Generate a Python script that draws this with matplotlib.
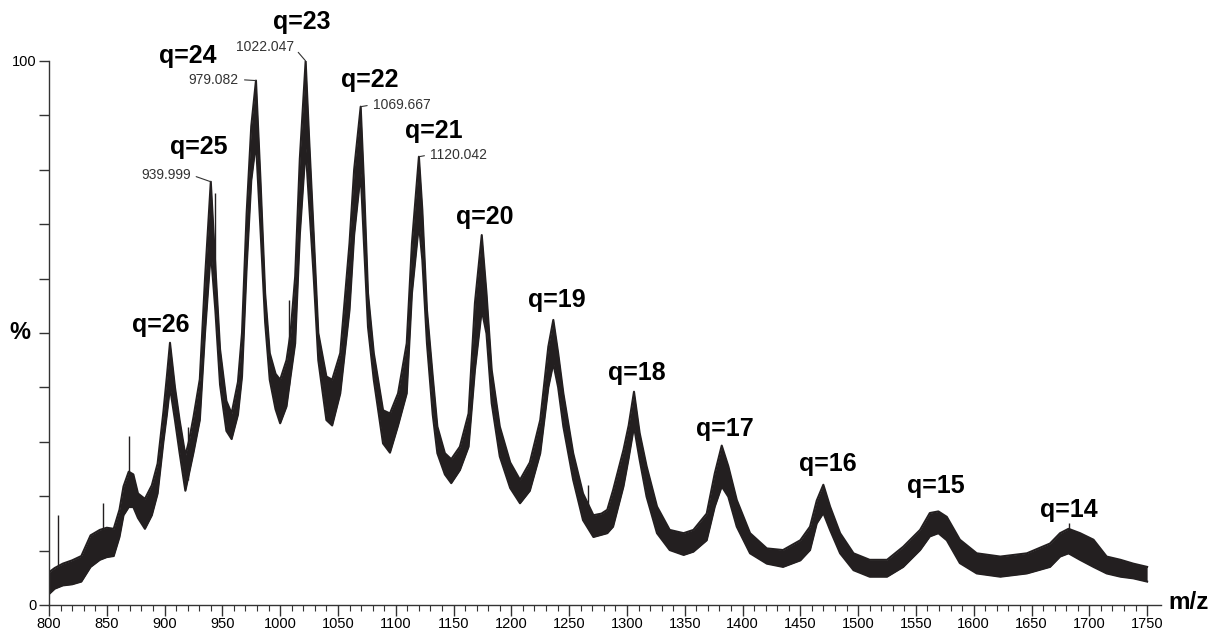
import matplotlib
matplotlib.use("Agg")
import matplotlib.pyplot as plt
import numpy as np

plt.rcParams['font.family'] = ['Liberation Sans', 'DejaVu Sans']

# ESI envelope of the charge-state series, read as upper/lower edge of the noisy trace
mz = [800, 805, 812, 820, 828, 836, 844, 850, 856, 861, 864.5, 869, 873, 877, 883,
      889, 894, 899, 902, 904.7, 909, 913, 918, 921, 925, 930.5, 935, 939.999, 944,
      948, 953.5, 958, 963.5, 967, 971, 975, 979.082, 983, 987, 991, 996, 1000,
      1005.5, 1009, 1013, 1017, 1022.047, 1025, 1029, 1033, 1040, 1045, 1052, 1060,
      1064, 1069.667, 1072.5, 1076, 1081, 1089, 1095, 1102, 1109.5, 1114, 1120.042,
      1123, 1127, 1132, 1136, 1142.5, 1148, 1155.5, 1163, 1168.5, 1174.4, 1178.5,
      1183, 1190, 1199, 1207.5, 1216, 1225, 1232, 1236.3, 1240.5, 1245, 1253.5,
      1262, 1271, 1278, 1283, 1288, 1297, 1301.5, 1306.1, 1311, 1317, 1326, 1337,
      1349, 1357.5, 1369, 1376, 1382, 1387.7, 1395, 1406.5, 1421, 1435, 1450,
      1458.4, 1464.2, 1469.9, 1475.7, 1484.4, 1496, 1510, 1525, 1539, 1553.6, 1562,
      1569.4, 1576.7, 1588, 1602.6, 1623, 1646, 1666, 1674.7, 1682, 1692, 1703.6,
      1715, 1727, 1738, 1750]
upper = [6.0, 6.8, 7.6, 8.2, 9.0, 12.8, 13.8, 14.2, 14.0, 17.5, 21.8, 24.5, 24.0, 20.5,
         19.5, 22.0, 26.0, 35.5, 42.0, 48.2, 40.0, 34.0, 27.5, 30.0, 34.5, 41.5, 60.0,
         77.8, 62.0, 47.0, 37.5, 35.2, 41.0, 50.0, 72.0, 88.0, 96.4, 78.0, 57.3, 46.3,
         42.5, 41.4, 45.0, 50.0, 60.4, 82.0, 100.0, 86.0, 68.3, 50.0, 42.0, 41.4, 46.3,
         66.5, 80.0, 91.6, 77.5, 57.3, 46.3, 35.8, 35.2, 38.9, 48.1, 66.5, 82.4, 72.6,
         54.2, 42.0, 32.8, 27.9, 26.8, 29.1, 35.2, 55.5, 68.0, 57.3, 43.2, 32.8, 26.2,
         23.0, 26.2, 34.0, 47.5, 52.4, 46.3, 38.9, 27.9, 20.5, 16.5, 16.8, 17.5, 21.1,
         28.5, 33.0, 39.2, 31.6, 25.5, 18.1, 13.8, 13.2, 13.8, 16.8, 24.2, 29.3, 25.5,
         19.3, 13.2, 10.4, 10.1, 11.9, 14.4, 19.2, 22.1, 18.1, 13.2, 9.5, 8.3, 8.3,
         10.7, 13.8, 16.9, 17.2, 16.2, 12.0, 9.5, 8.9, 9.5, 11.3, 13.2, 14.0, 13.2,
         12.0, 8.9, 8.3, 7.6, 7.0]
lower = [2.0, 3.0, 3.6, 3.8, 4.3, 7.0, 8.3, 8.8, 9.0, 12.5, 16.5, 18.0, 18.0, 16.0,
         14.0, 16.5, 20.5, 30.0, 35.0, 40.0, 34.0, 28.0, 21.0, 24.0, 28.0, 34.0, 50.0,
         65.0, 54.0, 40.5, 32.0, 30.5, 35.0, 42.0, 62.0, 78.0, 85.0, 69.0, 52.0, 41.4,
         36.0, 33.4, 36.5, 42.0, 48.1, 68.0, 84.0, 74.0, 60.4, 45.0, 34.0, 33.0, 38.9,
         54.2, 68.0, 79.4, 66.5, 51.1, 41.4, 29.7, 28.0, 33.0, 38.9, 57.3, 70.0, 63.4,
         48.1, 35.0, 27.9, 24.0, 22.4, 24.8, 29.1, 43.2, 54.2, 49.9, 37.1, 27.3, 21.5,
         18.7, 21.0, 27.9, 40.0, 44.4, 40.0, 32.8, 23.0, 15.6, 12.5, 12.9, 13.2, 14.4,
         21.8, 27.0, 32.8, 26.7, 19.9, 13.2, 10.1, 9.2, 9.8, 11.9, 18.1, 21.8, 19.9,
         14.4, 9.5, 7.6, 7.0, 8.2, 10.1, 15.0, 16.9, 13.8, 9.5, 6.4, 5.2, 5.2,
         7.0, 10.1, 12.6, 13.2, 11.9, 7.7, 5.8, 5.2, 5.8, 7.0, 8.9, 9.5, 8.3,
         7.0, 5.8, 5.2, 4.9, 4.3]

# isolated noise spikes standing above the band
spike_mz = [808, 847, 869, 920, 943.6, 1008, 1266, 1682.5]
spike_top = [16.5, 18.7, 31.1, 32.8, 75.7, 56.1, 22.1, 15.0]

# charge states: label, apex m/z, apex intensity
charges = ['q=26', 'q=25', 'q=24', 'q=23', 'q=22', 'q=21', 'q=20', 'q=19',
           'q=18', 'q=17', 'q=16', 'q=15', 'q=14']
charge_mz = [904.7, 939.999, 979.082, 1022.047, 1069.667, 1120.042, 1174.4, 1236.3,
             1306.1, 1382, 1469.9, 1569.4, 1682]
charge_int = [48.2, 77.8, 96.4, 100.0, 91.6, 82.4, 68.0, 52.4, 39.2, 29.3, 22.1, 17.2, 14.0]
# label offsets in pixels from the apex
charge_off = [(-9, 11), (-12, 28), (-68, 18), (-4, 32), (9, 20), (15, 19), (3, 11),
              (4, 13), (3, 12), (3, 10), (4, 14), (-3, 18), (0, 12)]

# m/z values printed beside the tallest peaks
tag_mz = [939.999, 979.082, 1022.047, 1069.667, 1120.042]
tag_int = [77.8, 96.4, 100.0, 91.6, 82.4]
tag_off = [(-20, 7), (-17, 1), (-12, 14), (12, 2), (11, 2)]

ink = '#231f20'

fig = plt.figure(figsize=(12.18, 6.30), dpi=100)
ax = fig.add_axes([0.0402, 0.0397, 0.913, 0.8635])

ax.fill_between(mz, lower, upper, color=ink, lw=0)
ax.plot(mz, upper, color=ink, lw=1.5)
ax.plot(mz, lower, color=ink, lw=1.5)
ax.vlines(spike_mz, np.interp(spike_mz, mz, lower), spike_top, color=ink, lw=1.0)

for lab, x, y, (dx, dy) in zip(charges, charge_mz, charge_int, charge_off):
    ax.annotate(lab, (x, y), xytext=(dx, dy), textcoords='offset pixels',
                ha='center', va='baseline', fontsize=18, fontweight='bold',
                color='black', annotation_clip=False)

for x, y, (dx, dy) in zip(tag_mz, tag_int, tag_off):
    ax.annotate(f'{x:.3f}', (x, y), xytext=(dx, dy), textcoords='offset pixels',
                ha='right' if dx < 0 else 'left', va='center', fontsize=10,
                color='#333333', annotation_clip=False,
                arrowprops=dict(arrowstyle='-', color='#333333', lw=0.8,
                                shrinkA=2, shrinkB=0,
                                relpos=(1, 0.5) if dx < 0 else (0, 0.5)))

ax.set_xlim(800, 1762)
ax.set_ylim(0, 100)
for side in ['top', 'right']:
    ax.spines[side].set_visible(False)
for side in ['left', 'bottom']:
    ax.spines[side].set_color('#333333')
    ax.spines[side].set_linewidth(1.0)

ax.set_xticks(np.arange(800, 1751, 50))
ax.set_xticks(np.arange(800, 1751, 10), minor=True)
ax.set_yticks(np.arange(0, 101, 10))
ax.set_yticklabels(['0'] + [''] * 9 + ['100'])
ax.tick_params(axis='x', which='major', length=8, width=1.0, labelsize=10.5,
               pad=1, color='#333333')
ax.tick_params(axis='x', which='minor', length=4, width=0.8, color='#333333')
ax.tick_params(axis='y', length=7, width=1.0, labelsize=10.5, pad=2, color='#333333')

ax.text(-0.026, 0.5, '%', transform=ax.transAxes, ha='center', va='center',
        fontsize=17, fontweight='bold')
ax.text(1.007, 0.005, 'm/z', transform=ax.transAxes, ha='left', va='center',
        fontsize=17.5, fontweight='bold')

fig.savefig('out.png', dpi=100)
